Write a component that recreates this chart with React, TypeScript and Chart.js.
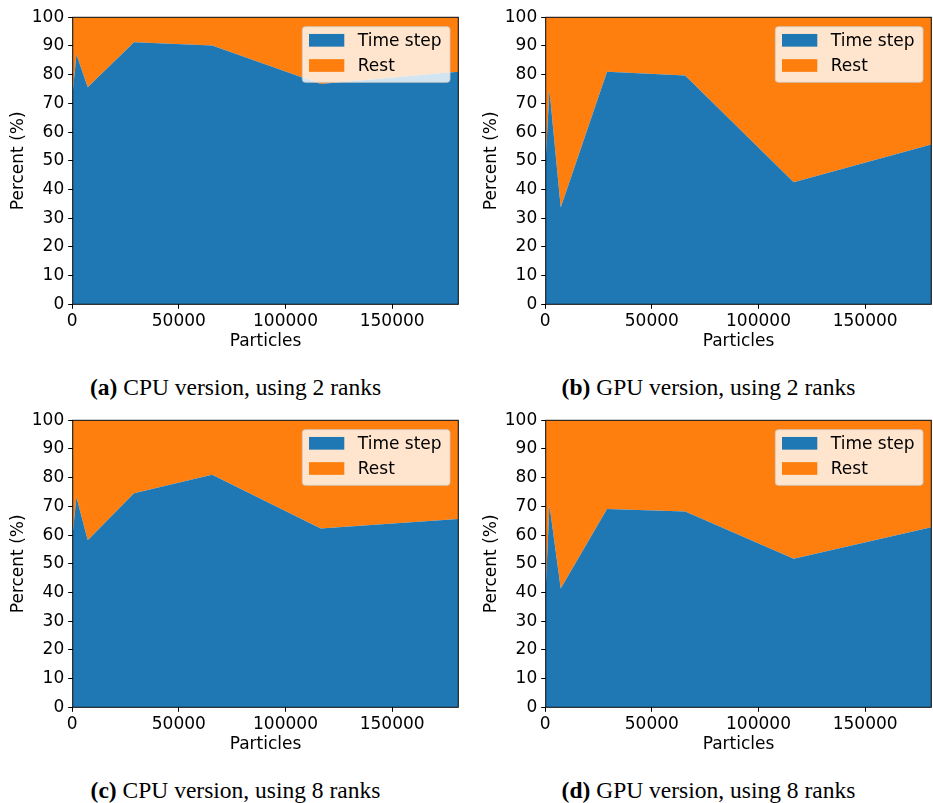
import React, { useEffect, useRef } from 'react';
import { Chart, registerables } from 'chart.js';

Chart.register(...registerables);

// ---------- data ----------
const PARTICLES = [250, 2000, 7300, 29000, 65600, 116500, 181000];

const CPU_2_TIMESTEP = [73.5, 87.0, 75.6, 91.3, 90.2, 76.8, 81.0];
const CPU_2_REST = [26.5, 13.0, 24.4, 8.7, 9.8, 23.2, 19.0];

const GPU_2_TIMESTEP = [50.3, 74.7, 33.7, 81.0, 79.7, 42.5, 55.7];
const GPU_2_REST = [49.7, 25.3, 66.3, 19.0, 20.3, 57.5, 44.3];

const CPU_8_TIMESTEP = [60.2, 73.2, 58.2, 74.6, 81.0, 62.3, 65.6];
const CPU_8_REST = [39.8, 26.8, 41.8, 25.4, 19.0, 37.7, 34.4];

const GPU_8_TIMESTEP = [41.0, 70.4, 41.4, 69.1, 68.2, 51.8, 62.7];
const GPU_8_REST = [59.0, 29.6, 58.6, 30.9, 31.8, 48.2, 37.3];

const X_TICKS = [0, 50000, 100000, 150000];
const Y_MIN = 0;
const Y_MAX = 100;
const Y_STEP = 10;

const SERIES_LABELS = ['Time step', 'Rest'];
const SERIES_COLORS = ['#1f77b4', '#ff7f0e'];
const X_TITLE = 'Particles';
const Y_TITLE = 'Percent (%)';

const PANELS = [
  { tag: '(a)', caption: 'CPU version, using 2 ranks', ts: CPU_2_TIMESTEP, rest: CPU_2_REST, left: 0, top: 0 },
  { tag: '(b)', caption: 'GPU version, using 2 ranks', ts: GPU_2_TIMESTEP, rest: GPU_2_REST, left: 473, top: 0 },
  { tag: '(c)', caption: 'CPU version, using 8 ranks', ts: CPU_8_TIMESTEP, rest: CPU_8_REST, left: 0, top: 403 },
  { tag: '(d)', caption: 'GPU version, using 8 ranks', ts: GPU_8_TIMESTEP, rest: GPU_8_REST, left: 473, top: 403 },
];

const FONT = '"DejaVu Sans", sans-serif';
const FS = 17;
const CANVAS_W = 466;
const CANVAS_H = 360;

const mplPlugin = {
  id: 'mplDecor',
  afterDatasetsDraw(chart: any) {
    const { ctx, chartArea } = chart;
    const { left, top, right, bottom } = chartArea;
    ctx.save();
    ctx.strokeStyle = '#000';
    ctx.lineWidth = 1;
    ctx.strokeRect(left, top, right - left, bottom - top);
    ctx.restore();
  },
  afterDraw(chart: any) {
    const { ctx, chartArea } = chart;
    const { top, right } = chartArea;
    ctx.save();
    const bx0 = right - 156;
    const bx1 = right - 8.3;
    const by0 = top + 9.4;
    const by1 = top + 65;
    ctx.beginPath();
    (ctx as any).roundRect(bx0, by0, bx1 - bx0, by1 - by0, 3);
    ctx.fillStyle = 'rgba(255,255,255,0.8)';
    ctx.fill();
    ctx.strokeStyle = 'rgba(204,204,204,0.8)';
    ctx.lineWidth = 1;
    ctx.stroke();
    chart.data.datasets.forEach((ds: any, i: number) => {
      const cy = top + 23 + i * 25.2;
      ctx.fillStyle = ds.backgroundColor;
      ctx.fillRect(right - 149.3, cy - 6.35, 35.3, 12.7);
      ctx.fillStyle = '#000';
      ctx.font = `${FS}px ${FONT}`;
      ctx.textBaseline = 'middle';
      ctx.textAlign = 'left';
      ctx.fillText(ds.label, right - 100.5, cy + 1.2);
    });
    ctx.restore();
  },
};

function Panel({ ts, rest }: { ts: number[]; rest: number[] }) {
  const ref = useRef<HTMLCanvasElement | null>(null);
  useEffect(() => {
    if (!ref.current) return;
    const chart = new Chart(ref.current, {
      type: 'line',
      data: {
        datasets: [
          {
            label: SERIES_LABELS[0],
            data: PARTICLES.map((x, i) => ({ x, y: ts[i] })),
            backgroundColor: SERIES_COLORS[0],
            borderColor: SERIES_COLORS[0],
            borderWidth: 0,
            pointRadius: 0,
            fill: 'origin',
            tension: 0,
          },
          {
            label: SERIES_LABELS[1],
            data: PARTICLES.map((x, i) => ({ x, y: rest[i] })),
            backgroundColor: SERIES_COLORS[1],
            borderColor: SERIES_COLORS[1],
            borderWidth: 0,
            pointRadius: 0,
            fill: '-1',
            tension: 0,
          },
        ],
      },
      options: {
        responsive: false,
        animation: false,
        devicePixelRatio: 1,
        layout: { padding: { top: 17.3, right: 7.7, left: 0, bottom: 0 } },
        plugins: { legend: { display: false }, tooltip: { enabled: false } },
        scales: {
          x: {
            type: 'linear',
            min: PARTICLES[0],
            max: PARTICLES[PARTICLES.length - 1],
            afterBuildTicks: (scale: any) => {
              scale.ticks = X_TICKS.map((v) => ({ value: v }));
            },
            afterFit: (scale: any) => {
              scale.height = 55.7;
            },
            border: { display: false },
            grid: { display: true, drawOnChartArea: false, drawTicks: true, tickLength: 4.5, color: '#000' },
            ticks: {
              autoSkip: false,
              maxRotation: 0,
              padding: 2.5,
              color: '#000',
              font: { family: FONT, size: FS },
              callback: (v: any) => String(v),
            },
            title: {
              display: true,
              text: X_TITLE,
              color: '#000',
              font: { family: FONT, size: FS },
              padding: { top: 0, bottom: 8 },
            },
          },
          y: {
            stacked: true,
            min: Y_MIN,
            max: Y_MAX,
            afterFit: (scale: any) => {
              scale.width = 72.7;
            },
            border: { display: false },
            grid: { display: true, drawOnChartArea: false, drawTicks: true, tickLength: 4.5, color: '#000' },
            ticks: {
              stepSize: Y_STEP,
              padding: 4,
              color: '#000',
              font: { family: FONT, size: FS },
            },
            title: {
              display: true,
              text: Y_TITLE,
              color: '#000',
              font: { family: FONT, size: FS },
              padding: { top: 8, bottom: 0 },
            },
          },
        },
      } as any,
      plugins: [mplPlugin],
    });
    return () => chart.destroy();
  }, [ts, rest]);
  return <canvas ref={ref} width={CANVAS_W} height={CANVAS_H} style={{ width: CANVAS_W, height: CANVAS_H, display: 'block' }} />;
}

export default function App() {
  return (
    <div style={{ position: 'absolute', left: 0, top: 0, width: 933, height: 803, background: '#fff', overflow: 'hidden' }}>
      {PANELS.map((p) => (
        <React.Fragment key={p.tag}>
          <div style={{ position: 'absolute', left: p.left, top: p.top }}>
            <Panel ts={p.ts} rest={p.rest} />
          </div>
          <div
            style={{
              position: 'absolute',
              left: p.left,
              top: p.top + 373,
              width: 471,
              textAlign: 'center',
              fontFamily: '"Liberation Serif", "Times New Roman", serif',
              fontSize: 23.5,
              lineHeight: '28px',
              color: '#000',
              whiteSpace: 'nowrap',
            }}
          >
            <b>{p.tag}</b> {p.caption}
          </div>
        </React.Fragment>
      ))}
    </div>
  );
}
